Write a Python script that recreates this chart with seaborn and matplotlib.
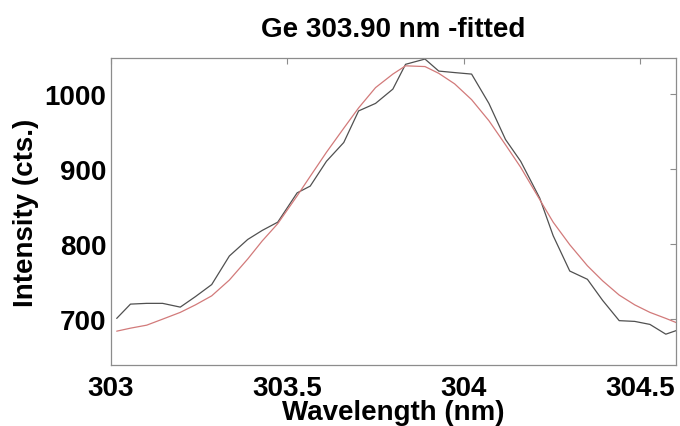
import matplotlib
matplotlib.use("Agg")
import matplotlib.pyplot as plt
import seaborn as sns
import pandas as pd

# Measured spectrum around the Ge 303.90 nm line and its fitted profile
wavelength = [303.017, 303.056, 303.102, 303.147, 303.197, 303.240, 303.286, 303.336,
              303.388, 303.429, 303.473, 303.528, 303.565, 303.611, 303.660, 303.702,
              303.750, 303.799, 303.835, 303.890, 303.929, 303.974, 304.022, 304.071,
              304.118, 304.161, 304.215, 304.253, 304.300, 304.350, 304.393, 304.440,
              304.484, 304.527, 304.572, 304.609]
measured = [701, 720, 721, 721, 716, 730, 746, 784,
            806, 818, 829, 868, 877, 910, 935, 977,
            987, 1006, 1039, 1046, 1030, 1028, 1026, 987,
            939, 910, 861, 811, 764, 753, 725, 698,
            697, 693, 680, 686]
fitted = [684, 688, 692, 700, 709, 719, 731, 752,
          780, 804, 827, 864, 890, 922, 954, 981,
          1008, 1026, 1037, 1036, 1027, 1013, 992, 964,
          932, 902, 859, 829, 799, 771, 751, 732,
          719, 709, 701, 694]

x_ticks = [303, 303.5, 304, 304.5]
x_tick_labels = ["303", "303.5", "304", "304.5"]
y_ticks = [700, 800, 900, 1000]

df = pd.DataFrame({"wavelength": wavelength, "measured": measured, "fitted": fitted})

sns.set_style("white")
plt.rcParams["font.family"] = ["Liberation Sans", "DejaVu Sans"]
plt.rcParams["font.weight"] = "bold"
plt.rcParams["text.color"] = "black"
plt.rcParams["axes.labelcolor"] = "black"

fig = plt.figure(figsize=(6.8, 4.27), dpi=100)
ax = fig.add_axes([110.7 / 680, 1 - 366 / 427, (675.7 - 110.7) / 680, (366 - 59.3) / 427])

sns.lineplot(data=df, x="wavelength", y="measured", ax=ax, color="#505050",
             linewidth=0.9, sort=False)
sns.lineplot(data=df, x="wavelength", y="fitted", ax=ax, color="#d27a7a",
             linewidth=0.9, sort=False)

ax.set_xlim(303, 304.6)
ax.set_ylim(639, 1047)
ax.set_xticks(x_ticks)
ax.set_xticklabels(x_tick_labels)
ax.set_yticks(y_ticks)

frame_color = "#8c8c8c"
for side in ax.spines.values():
    side.set_visible(True)
    side.set_color(frame_color)
    side.set_linewidth(0.9)

ax.tick_params(axis="both", which="major", direction="in", length=4.3, width=0.8,
               color=frame_color, labelcolor="black", labelsize=20, top=True, right=True,
               labeltop=False, labelright=False)
ax.tick_params(axis="x", pad=7)
ax.tick_params(axis="y", pad=3)
for lbl in ax.get_xticklabels() + ax.get_yticklabels():
    lbl.set_fontweight("bold")

ax.set_xlabel("Wavelength (nm)", fontsize=20, fontweight="bold", labelpad=-1, color="black")
ax.set_ylabel("Intensity (cts.)", fontsize=20, fontweight="bold", labelpad=4, color="black")
ax.set_title("Ge 303.90 nm -fitted", fontsize=20, fontweight="bold", pad=16, color="black")

fig.savefig("out.png", dpi=100)
